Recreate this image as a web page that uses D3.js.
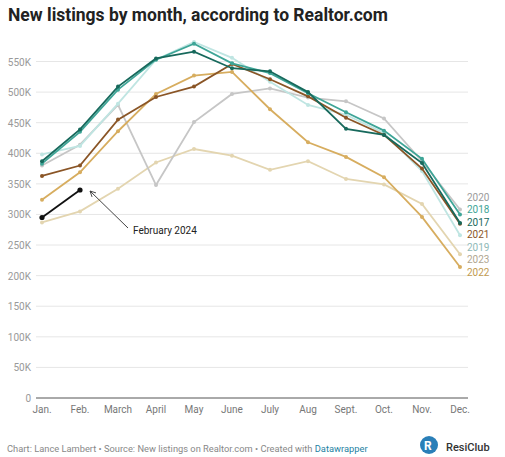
<!DOCTYPE html><html><head><meta charset="utf-8"><script src="https://cdn.jsdelivr.net/npm/d3@7"></script>
<style>body{margin:0;background:#fff;font-family:Roboto,sans-serif}</style></head><body><svg width="505" height="457"></svg>
<script>
const months=["Jan.","Feb.","March","April","May","June","July","Aug","Sept.","Oct.","Nov.","Dec."];
const yTicks=[0,50000,100000,150000,200000,250000,300000,350000,400000,450000,500000,550000];
const y2017=[387,439,509,555,566,539,534,500,440,430,384,286];
const y2018=[383,435,504,553,579,547,531,498,467,437,391,300];
const y2019=[398,412,481,553,582,556,517,479,463,433,371,266];
const y2020=[380,414,479,348,451,497,506,491,485,457,387,308];
const y2021=[363,380,455,492,509,546,521,493,458,430,375,285];
const y2022=[324,369,436,497,527,533,472,418,394,361,296,214];
const y2023=[287,305,342,385,407,396,373,387,358,349,317,235];
const y2024=[295,340];
const series=[
 {name:"2020",v:y2020,c:"#c6c6c6",lc:"#9a9a9a",ly:197},
 {name:"2018",v:y2018,c:"#3ea597",lc:"#3ea597",ly:209.5},
 {name:"2017",v:y2017,c:"#17695c",lc:"#17695c",ly:222},
 {name:"2021",v:y2021,c:"#8a5526",lc:"#8a5526",ly:234.5},
 {name:"2019",v:y2019,c:"#bfe5e2",lc:"#8fb9b7",ly:247},
 {name:"2023",v:y2023,c:"#e3d5b0",lc:"#b0a690",ly:259.5},
 {name:"2022",v:y2022,c:"#d7ad5f",lc:"#c19a4e",ly:272},
 {name:"2024",v:y2024,c:"#111",lc:null}];
const order=["2023","2020","2019","2022","2021","2018","2017","2024"];
const svg=d3.select("svg");
svg.append("text").attr("x",8).attr("y",21).attr("font-size",17.5).attr("font-weight",700).attr("fill","#222").text("New listings by month, according to Realtor.com");
const x=d3.scalePoint().domain(months).range([42,460]);
const y=d3.scaleLinear().domain([0,550000]).range([398,61.5]);
yTicks.forEach(t=>{
 if(t>0) svg.append("line").attr("x1",36).attr("x2",468).attr("y1",y(t)).attr("y2",y(t)).attr("stroke","#e6e6e6");
 svg.append("text").attr("x",31).attr("y",y(t)+4).attr("text-anchor","end").attr("font-size",10).attr("fill","#999").text(t===0?"0":(t/1000)+"K");
});
svg.append("line").attr("x1",36).attr("x2",468).attr("y1",y(0)).attr("y2",y(0)).attr("stroke","#555").attr("stroke-width",1);
months.forEach(m=>svg.append("text").attr("x",x(m)).attr("y",413).attr("text-anchor","middle").attr("font-size",10).attr("fill","#777").text(m));
const line=d3.line().x((d,i)=>x(months[i])).y(d=>y(d*1000));
order.forEach(n=>{const s=series.find(d=>d.name===n);
 svg.append("path").attr("d",line(s.v)).attr("fill","none").attr("stroke",s.c).attr("stroke-width",1.8);
 svg.selectAll(null).data(s.v).enter().append("circle").attr("cx",(d,i)=>x(months[i])).attr("cy",d=>y(d*1000)).attr("r",n==="2024"?2.6:2).attr("fill",s.c);
});
series.filter(s=>s.lc).forEach(s=>svg.append("text").attr("x",467).attr("y",s.ly+3.5).attr("font-size",10).attr("fill",s.lc).text(s.name));
svg.append("defs").append("marker").attr("id","ar").attr("viewBox","0 0 10 10").attr("refX",9).attr("refY",5).attr("markerWidth",7).attr("markerHeight",7).attr("orient","auto-start-reverse")
 .append("path").attr("d","M1,1L9,5L1,9").attr("fill","none").attr("stroke","#444").attr("stroke-width",1.3);
svg.append("line").attr("x1",128).attr("y1",228).attr("x2",90).attr("y2",191).attr("stroke","#444").attr("marker-end","url(#ar)");
svg.append("text").attr("x",133).attr("y",234).attr("font-size",10).attr("fill","#222").text("February 2024");
const f=svg.append("text").attr("x",7).attr("y",452).attr("font-size",9.3).attr("fill","#888");
f.append("tspan").text("Chart: Lance Lambert • Source: New listings on Realtor.com • Created with ");
f.append("tspan").attr("fill","#1d81a2").text("Datawrapper");
svg.append("circle").attr("cx",429).attr("cy",445).attr("r",9).attr("fill","#2a7fb8");
svg.append("text").attr("x",424).attr("y",450).attr("font-size",12).attr("font-weight",700).attr("fill","#fff").text("R");
svg.append("text").attr("x",446).attr("y",451).attr("font-size",11).attr("font-weight",500).attr("fill","#333").text("ResiClub");
</script></body></html>
